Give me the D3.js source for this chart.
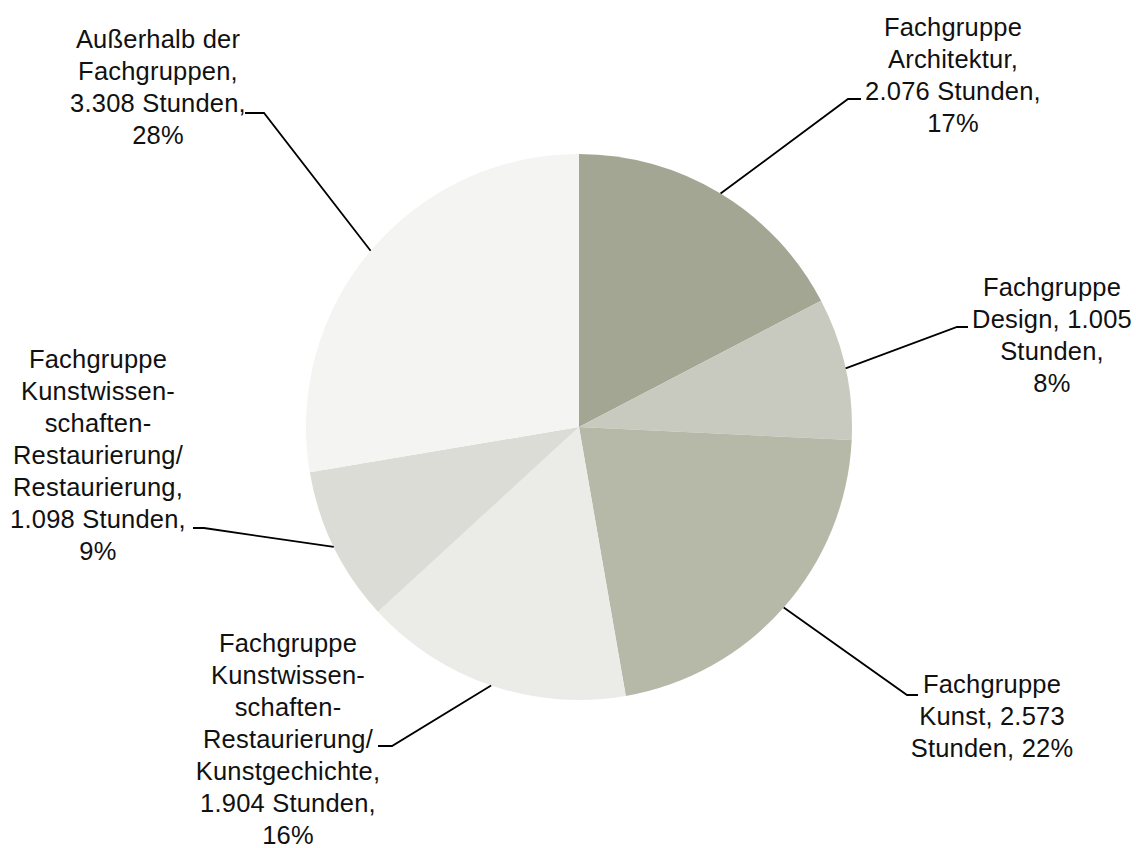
<!DOCTYPE html>
<html>
<head>
<meta charset="utf-8">
<script src="https://cdn.jsdelivr.net/npm/d3@7"></script>
<style>
  body { margin: 0; background: #fff; }
  text { font-family: "Liberation Sans", Arial, sans-serif; font-size: 25.5px; letter-spacing: 0.2px; fill: #111; }
</style>
</head>
<body>
<div id="chart"></div>
<script>
// slices, clockwise from 12 o'clock
const categories = ["Architektur", "Design", "Kunst", "Kunstgeschichte", "Restaurierung", "Außerhalb"];
const hours = [2076, 1005, 2573, 1904, 1098, 3308];
const colors = ["#a4a694", "#c8cabf", "#b7b9a8", "#ebebe7", "#dcdcd6", "#f4f4f2"];
const labelLines = [
    ["Fachgruppe", "Architektur,", "2.076 Stunden,", "17%"],
    ["Fachgruppe", "Design, 1.005", "Stunden,", "8%"],
    ["Fachgruppe", "Kunst, 2.573", "Stunden, 22%"],
    ["Fachgruppe", "Kunstwissen-", "schaften-", "Restaurierung/", "Kunstgechichte,", "1.904 Stunden,", "16%"],
    ["Fachgruppe", "Kunstwissen-", "schaften-", "Restaurierung/", "Restaurierung,", "1.098 Stunden,", "9%"],
    ["Außerhalb der", "Fachgruppen,", "3.308 Stunden,", "28%"]
];

// label layout (text centre x, first baseline y, elbow of leader, end of leader)
const labelPos = [
    {x: 953, y: 36, elbow: [848, 99], end: [861, 99]},
    {x: 1052, y: 296, elbow: [957, 327], end: [968, 327]},
    {x: 992, y: 693, elbow: [907, 695], end: [918, 695]},
    {x: 288, y: 652, elbow: [392, 746], end: [378, 746]},
    {x: 98, y: 368, elbow: [204, 528], end: [193, 528]},
    {x: 158, y: 48, elbow: [264, 113], end: [245, 113]}
];

const width = 1136, height = 848;
const cx = 579, cy = 427, radius = 273;
const lineHeight = 32;

const svg = d3.select("#chart").append("svg")
    .attr("width", width)
    .attr("height", height);

const pie = d3.pie().sort(null).value(d => d);
const arcs = pie(hours);
const arc = d3.arc().innerRadius(0).outerRadius(radius);

const g = svg.append("g").attr("transform", `translate(${cx},${cy})`);

g.selectAll("path")
    .data(arcs)
    .enter().append("path")
    .attr("d", arc)
    .attr("fill", (d, i) => colors[i]);

// leader lines start on the rim at the slice's mid angle
svg.append("g")
    .selectAll("polyline")
    .data(arcs)
    .enter().append("polyline")
    .attr("points", (d, i) => {
        const a = (d.startAngle + d.endAngle) / 2;
        const sx = cx + radius * Math.sin(a);
        const sy = cy - radius * Math.cos(a);
        const p = labelPos[i];
        return [[sx, sy], p.elbow, p.end].map(q => q.join(",")).join(" ");
    })
    .attr("fill", "none")
    .attr("stroke", "#000")
    .attr("stroke-width", 1.8);

const labels = svg.append("g")
    .selectAll("text")
    .data(labelLines)
    .enter().append("text")
    .attr("text-anchor", "middle")
    .attr("x", (d, i) => labelPos[i].x)
    .attr("y", (d, i) => labelPos[i].y);

labels.each(function(lines, i) {
    d3.select(this).selectAll("tspan")
        .data(lines)
        .enter().append("tspan")
        .attr("x", labelPos[i].x)
        .attr("y", (l, j) => labelPos[i].y + j * lineHeight)
        .text(l => l);
});
</script>
</body>
</html>
